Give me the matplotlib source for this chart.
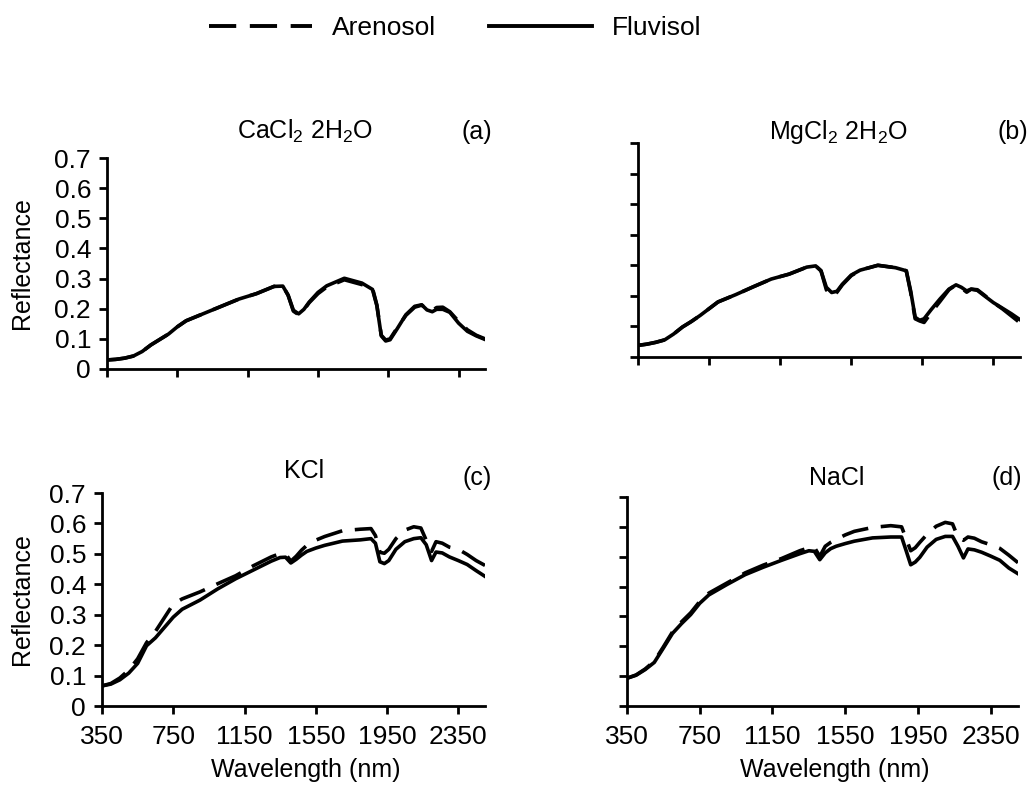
import matplotlib
matplotlib.use('Agg')
import matplotlib.pyplot as plt
from matplotlib.lines import Line2D

plt.rcParams['font.family'] = ['Liberation Sans', 'DejaVu Sans']
plt.rcParams['mathtext.fontset'] = 'custom'
plt.rcParams['mathtext.rm'] = 'Liberation Sans'
plt.rcParams['mathtext.default'] = 'regular'

# ---------------- data ----------------
wavelength = [350, 400, 450, 500, 550, 600, 650, 700, 750, 800, 900, 1000, 1100, 1200,
              1300, 1350, 1380, 1410, 1440, 1470, 1500, 1550, 1600, 1700, 1800, 1860,
              1885, 1910, 1935, 1960, 2000, 2050, 2100, 2140, 2170, 2200, 2225, 2260,
              2300, 2350, 2400, 2450, 2500]

cacl2_fluvisol = [0.030, 0.032, 0.036, 0.043, 0.058, 0.080, 0.098, 0.116, 0.140, 0.160, 0.184,
                  0.208, 0.232, 0.250, 0.274, 0.275, 0.245, 0.195, 0.183, 0.198, 0.222, 0.254,
                  0.276, 0.301, 0.285, 0.264, 0.210, 0.110, 0.093, 0.097, 0.133, 0.180, 0.208,
                  0.213, 0.196, 0.190, 0.198, 0.198, 0.188, 0.152, 0.125, 0.110, 0.098]
cacl2_arenosol = [0.030, 0.032, 0.036, 0.043, 0.058, 0.080, 0.098, 0.116, 0.140, 0.160, 0.184,
                  0.208, 0.232, 0.250, 0.274, 0.275, 0.245, 0.192, 0.180, 0.196, 0.220, 0.250,
                  0.272, 0.296, 0.280, 0.268, 0.212, 0.112, 0.096, 0.100, 0.136, 0.178, 0.205,
                  0.212, 0.198, 0.194, 0.204, 0.205, 0.190, 0.158, 0.130, 0.112, 0.100]

mgcl2_fluvisol = [0.038, 0.042, 0.048, 0.056, 0.075, 0.098, 0.116, 0.136, 0.158, 0.180, 0.204,
                  0.230, 0.255, 0.271, 0.294, 0.298, 0.282, 0.228, 0.211, 0.215, 0.238, 0.268,
                  0.284, 0.300, 0.292, 0.282, 0.215, 0.130, 0.120, 0.125, 0.155, 0.190, 0.222,
                  0.236, 0.228, 0.216, 0.222, 0.218, 0.200, 0.178, 0.160, 0.142, 0.122]
mgcl2_arenosol = [0.038, 0.042, 0.048, 0.056, 0.075, 0.098, 0.116, 0.136, 0.158, 0.180, 0.204,
                  0.230, 0.255, 0.271, 0.294, 0.298, 0.282, 0.220, 0.198, 0.212, 0.236, 0.266,
                  0.284, 0.300, 0.292, 0.282, 0.210, 0.125, 0.118, 0.113, 0.145, 0.182, 0.220,
                  0.236, 0.226, 0.212, 0.222, 0.220, 0.202, 0.178, 0.158, 0.135, 0.112]

kcl_fluvisol = [0.066, 0.072, 0.086, 0.108, 0.140, 0.198, 0.224, 0.258, 0.292, 0.318, 0.348,
                0.385, 0.418, 0.447, 0.476, 0.488, 0.489, 0.470, 0.482, 0.496, 0.508, 0.519,
                0.528, 0.542, 0.546, 0.550, 0.535, 0.474, 0.468, 0.478, 0.515, 0.540, 0.550,
                0.553, 0.530, 0.478, 0.506, 0.503, 0.490, 0.478, 0.465, 0.445, 0.426]
kcl_arenosol = [0.066, 0.074, 0.092, 0.118, 0.155, 0.208, 0.245, 0.290, 0.335, 0.352, 0.375,
                0.402, 0.428, 0.461, 0.490, 0.501, 0.500, 0.476, 0.492, 0.512, 0.528, 0.545,
                0.557, 0.576, 0.581, 0.583, 0.560, 0.505, 0.502, 0.515, 0.550, 0.578, 0.589,
                0.585, 0.545, 0.508, 0.540, 0.535, 0.522, 0.515, 0.498, 0.478, 0.462]

nacl_fluvisol = [0.093, 0.103, 0.122, 0.146, 0.194, 0.243, 0.276, 0.306, 0.344, 0.372, 0.407,
                 0.440, 0.465, 0.488, 0.510, 0.520, 0.518, 0.490, 0.513, 0.527, 0.535, 0.544,
                 0.552, 0.563, 0.566, 0.566, 0.520, 0.473, 0.482, 0.498, 0.532, 0.558, 0.568,
                 0.568, 0.535, 0.496, 0.526, 0.523, 0.515, 0.502, 0.488, 0.462, 0.443]
nacl_arenosol = [0.093, 0.104, 0.124, 0.150, 0.198, 0.248, 0.282, 0.312, 0.350, 0.378, 0.412,
                 0.446, 0.472, 0.494, 0.520, 0.530, 0.532, 0.501, 0.535, 0.548, 0.558, 0.573,
                 0.585, 0.598, 0.604, 0.600, 0.560, 0.520, 0.530, 0.548, 0.575, 0.602, 0.615,
                 0.610, 0.565, 0.555, 0.566, 0.562, 0.550, 0.540, 0.528, 0.505, 0.480]

panel_titles = ['CaCl$_2$ 2H$_2$O', 'MgCl$_2$ 2H$_2$O', 'KCl', 'NaCl']
panel_letters = ['(a)', '(b)', '(c)', '(d)']
series_names = ['Arenosol', 'Fluvisol']
x_ticks = [350, 750, 1150, 1550, 1950, 2350]
y_ticks = [0, 0.1, 0.2, 0.3, 0.4, 0.5, 0.6, 0.7]
y_tick_labels = ['0', '0.1', '0.2', '0.3', '0.4', '0.5', '0.6', '0.7']
x_label = 'Wavelength (nm)'
y_label = 'Reflectance'

arenosol_series = [cacl2_arenosol, mgcl2_arenosol, kcl_arenosol, nacl_arenosol]
fluvisol_series = [cacl2_fluvisol, mgcl2_fluvisol, kcl_fluvisol, nacl_fluvisol]

# ---------------- layout ----------------
W, H = 1032, 785
fig = plt.figure(figsize=(W / 100, H / 100), dpi=100)


def fx(px):
    return px / W


def fy(py):
    return 1 - py / H


# axes boxes in pixels: left, top, right, bottom
boxes = [(107, 158, 485, 369), (638, 143, 1020, 357),
         (102, 493, 485, 706), (627, 497, 1018, 706)]
title_pos = [(305, 139), (838, 139), (304, 478), (837, 485)]
letter_pos = [(492, 139), (1028, 139), (492, 485), (1022, 485)]

FS = 18
TFS = 19
LW = 2.6
DASH = (7.5, 3.5)

for i, (l, t, r, b) in enumerate(boxes):
    ax = fig.add_axes([fx(l), fy(b), fx(r) - fx(l), fy(t) - fy(b)])
    ax.plot(wavelength, arenosol_series[i], color='black', lw=LW, dashes=DASH,
            dash_capstyle='butt')
    ax.plot(wavelength, fluvisol_series[i], color='black', lw=LW)
    ax.set_xlim(350, 2500)
    ax.set_ylim(0, 0.7)
    ax.set_xticks(x_ticks)
    ax.set_yticks(y_ticks)
    for s in ['top', 'right']:
        ax.spines[s].set_visible(False)
    for s in ['left', 'bottom']:
        ax.spines[s].set_linewidth(2)
    ax.tick_params(direction='out', length=5.5, width=2, labelsize=TFS)
    ax.tick_params(axis='x', pad=8)
    ax.tick_params(axis='y', pad=6)
    if i in (0, 2):
        ax.set_yticklabels(y_tick_labels)
        fig.text(fx(22), (fy(t) + fy(b)) / 2, y_label, rotation=90,
                 ha='center', va='center', fontsize=FS)
    else:
        ax.set_yticklabels([])
    if i in (2, 3):
        ax.set_xticklabels([str(v) for v in x_ticks])
        fig.text(fx((l + r) / 2 + 12), fy(770), x_label, ha='center', va='center', fontsize=FS)
    else:
        ax.set_xticklabels([])
    fig.text(fx(title_pos[i][0]), fy(title_pos[i][1]), panel_titles[i],
             ha='center', va='baseline', fontsize=FS)
    fig.text(fx(letter_pos[i][0]), fy(letter_pos[i][1]), panel_letters[i],
             ha='right', va='baseline', fontsize=FS)

handles = [Line2D([], [], color='black', lw=2.8, dashes=(7, 3.5)),
           Line2D([], [], color='black', lw=2.8)]
fig.legend(handles, series_names, loc='center', bbox_to_anchor=(fx(455), fy(28)),
           ncol=2, frameon=False, fontsize=19, handlelength=3.9,
           handletextpad=0.75, columnspacing=2.0)

fig.savefig('out.png', dpi=100)
